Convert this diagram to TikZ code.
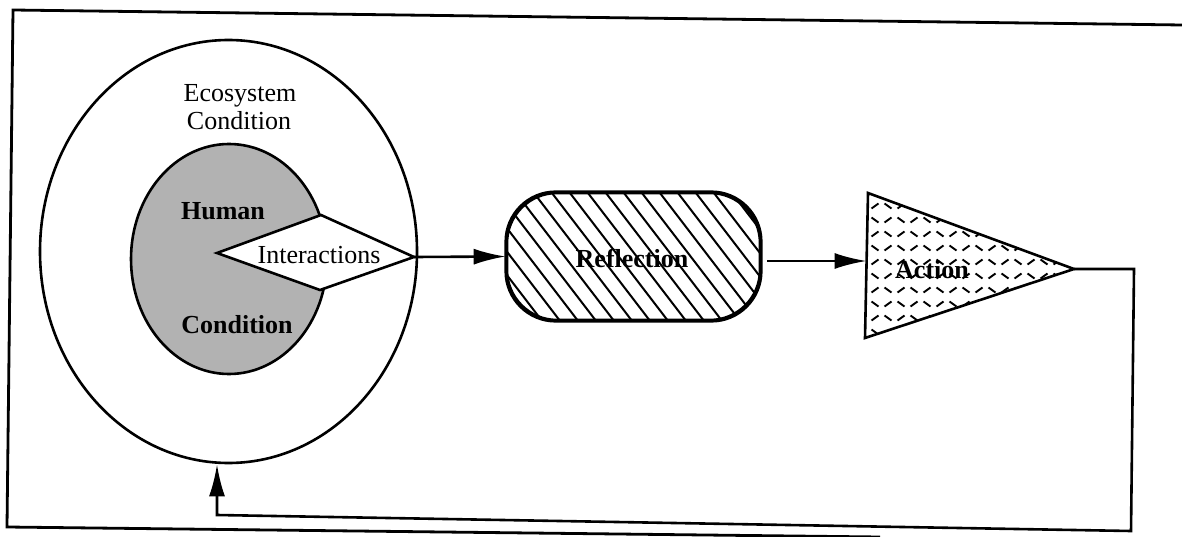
\documentclass[tikz,border=0pt]{standalone}
\usepackage{fontspec}
\setmainfont{Liberation Serif}
\usetikzlibrary{arrows.meta,shapes.geometric}
\begin{document}
\begin{tikzpicture}[x=1pt,y=-1pt,
  outline/.style={draw=black,line width=2.6pt},
  arr/.style={line width=2.6pt,-{Latex[length=32pt,width=16pt]}},
  lbl/.style={font=\fontsize{26}{30}\selectfont,anchor=base,inner sep=0pt},
  lblb/.style={font=\fontsize{26}{30}\selectfont\bfseries,anchor=base,inner sep=0pt},
  frameline/.style={line width=2.8pt},
  hatch/.style={line width=2pt},
  dashmark/.style={line width=1.9pt,line cap=butt}
]
\fill[white] (0,0) rectangle (1182,537);
\useasboundingbox (0,0) rectangle (1182,537);

% frame
\coordinate (f1) at (13,10);
\coordinate (f2) at (1182,25);
\coordinate (f3) at (7,527);
\coordinate (f4) at (880,537);
\draw[frameline] (f2) -- (f1) -- (f3) -- (f4);

% ecosystem ellipse and human ellipse
\node[ellipse,outline,minimum width=377pt,minimum height=423pt,inner sep=0pt] (eco) at (228.5,251.5) {};
\node[ellipse,outline,fill=black!30,minimum width=196pt,minimum height=230pt,inner sep=0pt] (hum) at (229,259) {};

% diamond
\coordinate (dw) at (217,253);
\coordinate (dn) at (321,215);
\coordinate (de) at (414,257);
\coordinate (ds) at (320,290);
\draw[outline,fill=white,line join=miter] (dw) -- (dn) -- (de) -- (ds) -- cycle;

\node[lbl] (teco1) at (240,102) {Ecosystem};
\node[lbl] (teco2) at (239,130) {Condition};
\node[lblb] (thum1) at (223,220) {Human};
\node[lblb] (thum2) at (237,333) {Condition};
\node[lbl] (tint) at (319,263) {Interactions};

% reflection
\node[outline,fill=white,rectangle,rounded corners=50pt,minimum width=253pt,minimum height=127pt,inner sep=0pt] (refl) at (633.5,256.5) {};
\begin{scope}
  \clip[rounded corners=50pt] (refl.south west) rectangle (refl.north east);
  \foreach \k in {0,...,23} \draw[hatch] (380+18*\k,180) -- ++(115,150);
\end{scope}
\draw[outline,rounded corners=50pt] (refl.south west) rectangle (refl.north east);
\node[lblb] (trefl) at (632,267) {Reflection};

% action triangle
\coordinate (ta) at (868,193);
\coordinate (tb) at (865,338);
\coordinate (tc) at (1074,269);
\fill[white] (ta) -- (tc) -- (tb) -- cycle;
\begin{scope}
  \clip (ta) -- (tc) -- (tb) -- cycle;
  \foreach \i in {0,...,17} {
    \foreach \j in {0,...,11} {
      \pgfmathtruncatemacro\pp{mod(\i+\j,2)}
      \ifnum\pp=0
        \draw[dashmark] (862+13*\i-3.5,192+14*\j+2.5) -- ++(7,-5);
      \else
        \draw[dashmark] (862+13*\i-3.5,192+14*\j-2.5) -- ++(7,5);
      \fi
    }
  }
\end{scope}
\draw[outline,line join=miter] (ta) -- (tc) -- (tb) -- cycle;
\node[lblb] (tact) at (932,278) {Action};

% connectors
\coordinate (rout) at (767,261);
\coordinate (ain) at (866.6,261);
\coordinate (l1) at (1134,269);
\coordinate (l2) at (1131,531);
\coordinate (l3) at (217,515);
\draw[arr] (de) -- (refl.west);
\draw[arr] (rout) -- (ain);
\draw[arr] (tc) -- (l1) -- (l2) -- (l3) -- (l3 |- eco.south);
\end{tikzpicture}
\end{document}
